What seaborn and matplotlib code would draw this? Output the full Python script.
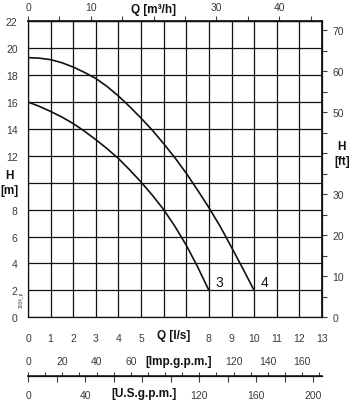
import numpy as np
import pandas as pd
import matplotlib
matplotlib.use("Agg")
import matplotlib.pyplot as plt
import matplotlib.transforms as mtransforms
from matplotlib.ticker import MultipleLocator
import seaborn as sns

# ==========================================================
# DATA (Q in l/s, H in m)
# ==========================================================

q_curve3 = [0, 0.5, 1, 1.5, 2, 2.5, 3, 3.5, 4, 4.5, 5, 5.5, 6, 6.5, 7, 7.5, 8]
h_curve3 = [16.0, 15.68, 15.3, 14.88, 14.4, 13.83, 13.2, 12.53, 11.8, 10.95,
            10.05, 9.07, 8.0, 6.75, 5.35, 3.75, 2.0]

q_curve4 = [0, 0.5, 1, 1.5, 2, 2.5, 3, 3.5, 4, 4.5, 5, 5.5, 6, 6.5, 7, 7.5,
            8, 8.5, 9, 9.5, 10]
h_curve4 = [19.3, 19.26, 19.15, 18.92, 18.6, 18.2, 17.75, 17.15, 16.45, 15.65,
            14.8, 13.9, 12.9, 11.85, 10.7, 9.45, 8.15, 6.75, 5.2, 3.62, 2.0]

curve_names = ["3", "4"]

ls_ticks = list(range(0, 14))
ls_labels = ["0", "1", "2", "3", "4", "5", "", "", "8", "9", "10", "11", "12", "13"]
h_ticks = list(range(0, 23, 2))
h_labels = ["0", "2", "4", "6", "8", "", "12", "14", "16", "18", "20", "22"]
m3h_ticks = [0, 10, 20, 30, 40]
m3h_labels = ["0", "10", "", "30", "40"]
ft_ticks = [0, 10, 20, 30, 40, 50, 60, 70]
ft_labels = ["0", "10", "20", "30", "", "50", "60", "70"]
imp_ticks = [0, 20, 40, 60, 80, 100, 120, 140, 160]
imp_labels = ["0", "20", "40", "60", "", "", "120", "140", "160"]
us_ticks = [0, 40, 80, 120, 160, 200]
us_labels = ["0", "40", "", "120", "160", "200"]

M3H = 3.6
FT = 3.28084
IMP = 13.198
USG = 15.850

# ==========================================================
# STYLE
# ==========================================================

sns.set_theme(style="white")
plt.rcParams["font.family"] = ["Liberation Sans", "DejaVu Sans"]

ink = "#111111"
txt = "#3a3a3a"

fig = plt.figure(figsize=(3.56, 4.14), dpi=100)
ax = fig.add_axes([28 / 356, 1 - 318.3 / 414, 294 / 356, 296 / 414])

df3 = pd.DataFrame({"Q": q_curve3, "H": h_curve3})
df4 = pd.DataFrame({"Q": q_curve4, "H": h_curve4})
for d in (df3, df4):
    sns.lineplot(data=d, x="Q", y="H", ax=ax, color=ink, lw=1.2,
                 sort=False, estimator=None)

# curve numbers next to the end points
for d, name in zip((df3, df4), curve_names):
    ax.text(d["Q"].iloc[-1] + 0.45, d["H"].iloc[-1] + 0.6, name,
            fontsize=10, color=ink, ha="center", va="center")

ax.set_xlim(0, 13)
ax.set_ylim(0, 22)
ax.set_xticks(ls_ticks)
ax.set_xticklabels(ls_labels)
ax.set_yticks(h_ticks)
ax.set_yticklabels(h_labels)
ax.set_xlabel("")
ax.set_ylabel("")
ax.grid(True, color=ink, lw=0.9)
ax.tick_params(axis="both", length=0, labelsize=7.5, colors=txt)
ax.tick_params(axis="x", pad=11)
ax.tick_params(axis="y", pad=7.5)
for s in ax.spines.values():
    s.set_color(ink)
    s.set_linewidth(0.9)

# top axis: m3/h
top = ax.secondary_xaxis("top", functions=(lambda q: q * M3H, lambda v: v / M3H))
top.set_xticks(m3h_ticks, m3h_labels)
top.xaxis.set_minor_locator(MultipleLocator(5))
top.tick_params(which="both", direction="out", length=3.5, width=0.8,
                pad=3, labelsize=7.5, colors=txt)
top.spines["top"].set_color(ink)

# right axis: ft
right = ax.secondary_yaxis("right", functions=(lambda h: h * FT, lambda v: v / FT))
right.set_yticks(ft_ticks, ft_labels)
right.yaxis.set_minor_locator(MultipleLocator(5))
right.tick_params(which="both", direction="out", length=3.5, width=0.8,
                  pad=4, labelsize=7.5, colors=txt)
right.spines["right"].set_color(ink)

# bottom scale: Imp.g.p.m. above the line, U.S.g.p.m. below
loc = (318.3 - 376.7) / 296
imp = ax.secondary_xaxis(loc, functions=(lambda q: q * IMP, lambda v: v / IMP))
imp.set_xticks(imp_ticks, imp_labels)
imp.xaxis.set_minor_locator(MultipleLocator(10))
imp.tick_params(which="both", top=True, bottom=False, labeltop=True,
                labelbottom=False, direction="out", length=3, width=0.8,
                pad=4, labelsize=7.5, colors=txt)

us = ax.secondary_xaxis(loc, functions=(lambda q: q * USG, lambda v: v / USG))
us.set_xticks(us_ticks, us_labels)
us.xaxis.set_minor_locator(MultipleLocator(20))
us.tick_params(which="both", direction="out", length=4, width=0.8,
               pad=6, labelsize=7.5, colors=txt)
us.spines["bottom"].set_color(ink)
us.spines["bottom"].set_linewidth(0.9)

# ==========================================================
# AXIS TITLES
# ==========================================================

blend = mtransforms.blended_transform_factory(ax.transData, ax.transAxes)
blend_y = mtransforms.blended_transform_factory(ax.transAxes, ax.transData)
bold = dict(fontsize=8.5, fontweight="bold", color=ink, ha="center", va="center")

ax.text(20 / M3H, (318.3 - 9.5) / 296, "Q [m³/h]", transform=blend, **bold)
ax.text(6.46, (318.3 - 336) / 296, "Q [l/s]", transform=blend, **bold)
ax.text(88 / IMP, (318.3 - 362) / 296, "[Imp.g.p.m.]", transform=blend, **bold)
ax.text(81 / USG, (318.3 - 394) / 296, "[U.S.g.p.m.]", transform=blend, **bold)
ax.text(-0.062, 10, "H\n[m]", transform=blend_y, linespacing=1.3, **bold)
ax.text(1.067, 40 / FT, "H\n[ft]", transform=blend_y, linespacing=1.3, **bold)

fig.text(21 / 356, 1 - 300 / 414, "1034_p", rotation=90, fontsize=3.5,
         color=txt, ha="center", va="center")

fig.savefig("out.png", dpi=100)
